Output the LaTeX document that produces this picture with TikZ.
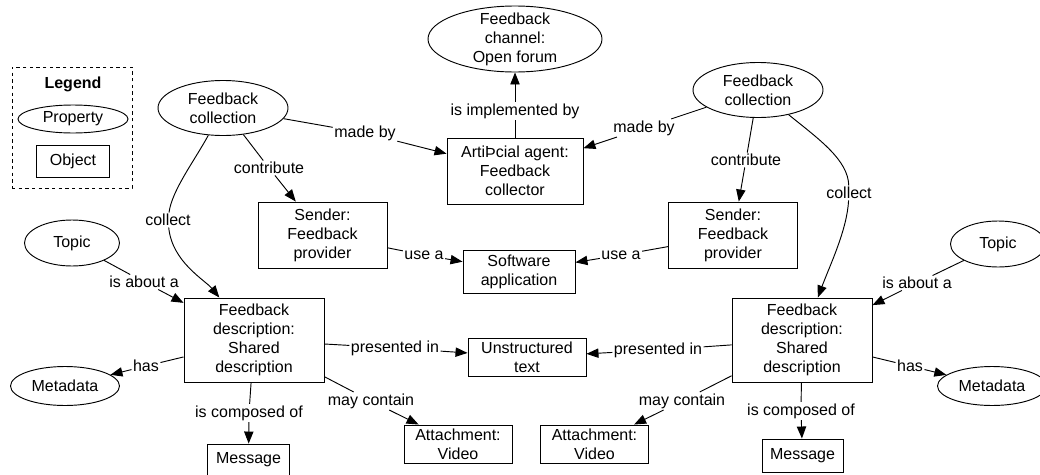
\documentclass[tikz,border=0pt]{standalone}
\usepackage{fontspec}
\setmainfont{Liberation Sans}
\usetikzlibrary{arrows.meta,shapes.geometric}
\begin{document}
\begin{tikzpicture}[x=0.75pt,y=-0.75pt,
  font=\fontsize{12}{14.3}\selectfont,
  prop/.style={draw,ellipse,line width=0.7pt,inner sep=0pt,align=center},
  obj/.style={draw,rectangle,line width=0.7pt,inner sep=0pt,align=center},
  lbl/.style={inner sep=1pt},
  link/.style={line width=0.7pt},
  arr/.style={link,-{Triangle[length=9pt,width=7pt]}}]
\useasboundingbox (0,0) rectangle (1040,475);
\clip (0,0) rectangle (1040,475);

% legend
\node[draw,dash pattern=on 2.5pt off 2.5pt,line width=0.7pt,minimum width=90pt,minimum height=90.75pt,inner sep=0pt] (legend) at (72,127.5) {};
\node (legendtitle) at (73,84) {\textbf{Legend}};
\node[prop,minimum width=82.5pt,minimum height=21pt] (legprop) at (73,119) {Property};
\node[obj,minimum width=54.75pt,minimum height=24pt] (legobj) at (73,161) {Object};

% properties (ellipses)
\node[prop,minimum width=97.5pt,minimum height=41.25pt] (fcL) at (223,108) {Feedback\\collection};
\node[prop,minimum width=97.5pt,minimum height=41.25pt] (fcR) at (758,90) {Feedback\\collection};
\node[prop,minimum width=130.5pt,minimum height=49.5pt,
      label={[align=center]center:Feedback\\channel:\\Open forum}] (channel) at (515,39) {};
\node[prop,minimum width=71.25pt,minimum height=34.5pt] (topicL) at (72,243) {Topic};
\node[prop,minimum width=71.25pt,minimum height=34.5pt] (topicR) at (998,244) {Topic};
\node[prop,minimum width=81.75pt,minimum height=29.25pt] (metaL) at (65,386) {Metadata};
\node[prop,minimum width=81.75pt,minimum height=29.25pt] (metaR) at (992,386) {Metadata};

% objects (boxes)
\node[obj,minimum width=102pt,minimum height=49.5pt] (agent) at (515,171) {ArtiÞcial agent:\\Feedback\\collector};
\node[obj,minimum width=96.75pt,minimum height=49.5pt] (sendL) at (322.5,235) {Sender:\\Feedback\\provider};
\node[obj,minimum width=96.75pt,minimum height=49.5pt] (sendR) at (733,235) {Sender:\\Feedback\\provider};
\node[obj,minimum width=84pt,minimum height=32.25pt] (soft) at (519,271.5) {Software\\application};
\node[obj,minimum width=105pt,minimum height=63pt] (descL) at (254,340) {Feedback\\description:\\Shared\\description};
\node[obj,minimum width=105pt,minimum height=63pt] (descR) at (802,340) {Feedback\\description:\\Shared\\description};
\node[obj,minimum width=88.5pt,minimum height=28.5pt] (text) at (527,357) {Unstructured\\text};
\node[obj,minimum width=81pt,minimum height=28.5pt] (attL) at (458,444) {Attachment:\\Video};
\node[obj,minimum width=81pt,minimum height=28.5pt] (attR) at (594.5,444) {Attachment:\\Video};
\node[obj,minimum width=62pt,minimum height=24pt] (msgL) at (248.5,460) {Message};
\node[obj,minimum width=60.75pt,minimum height=24.75pt] (msgR) at (802.5,455.5) {Message};

% link labels
\node[lbl] (lImpl) at (515,111) {is implemented by};
\node[lbl] (lMadeL) at (365,133) {made by};
\node[lbl] (lMadeR) at (644,128) {made by};
\node[lbl] (lContL) at (269,168) {contribute};
\node[lbl] (lContR) at (746,160) {contribute};
\node[lbl] (lCollL) at (168,220) {collect};
\node[lbl] (lCollR) at (849,193) {collect};
\node[lbl] (lUseL) at (424,255) {use a};
\node[lbl] (lUseR) at (621,255) {use a};
\node[lbl] (lAboutL) at (144,282) {is about a};
\node[lbl] (lAboutR) at (917,283) {is about a};
\node[lbl] (lHasL) at (146,366) {has};
\node[lbl] (lHasR) at (910,366) {has};
\node[lbl] (lCompL) at (249,413) {is composed of};
\node[lbl] (lCompR) at (801,411) {is composed of};
\node[lbl] (lPresL) at (395,348) {presented in};
\node[lbl] (lPresR) at (658,350) {presented in};
\node[lbl] (lMayL) at (371,401) {may contain};
\node[lbl] (lMayR) at (682,401) {may contain};

% links
\draw[link] (agent) -- (lImpl);
\draw[arr] (lImpl) -- (channel);

\draw[link] (fcL) -- (lMadeL);
\draw[arr] (lMadeL) -- (agent);
\draw[link] (fcR) -- (lMadeR);
\draw[arr] (lMadeR) -- (agent);

\draw[link] (fcL) -- (lContL);
\draw[arr] (lContL) -- (sendL);
\draw[link] (fcR) -- (lContR);
\draw[arr] (lContR) -- (sendR);

\draw[link] (fcL) .. controls (195,160) and (172,190) .. (lCollL);
\draw[arr] (lCollL) .. controls (172,262) and (205,280) .. (descL);
\draw[link] (fcR) .. controls (820,140) and (848,160) .. (lCollR);
\draw[arr] (lCollR) .. controls (847,230) and (830,265) .. (descR);

\draw[link] (sendL) -- (lUseL);
\draw[arr] (lUseL) -- (soft);
\draw[link] (sendR) -- (lUseR);
\draw[arr] (lUseR) -- (soft);

\draw[link] (topicL) -- (lAboutL);
\draw[arr] (lAboutL) -- (descL);
\draw[link] (topicR) -- (lAboutR);
\draw[arr] (lAboutR) -- (descR);

\draw[link] (descL) -- (lHasL);
\draw[arr] (lHasL) -- (metaL);
\draw[link] (descR) -- (lHasR);
\draw[arr] (lHasR) -- (metaR);

\draw[link] (descL) -- (lCompL);
\draw[arr] (lCompL) -- (msgL);
\draw[link] (descR) -- (lCompR);
\draw[arr] (lCompR) -- (msgR);

\draw[link] (descL) -- (lPresL);
\draw[arr] (lPresL) -- (text);
\draw[link] (descR) -- (lPresR);
\draw[arr] (lPresR) -- (text);

\draw[link] (descL) -- (lMayL);
\draw[arr] (lMayL) -- (attL);
\draw[link] (descR) -- (lMayR);
\draw[arr] (lMayR) -- (attR);
\end{tikzpicture}
\end{document}
